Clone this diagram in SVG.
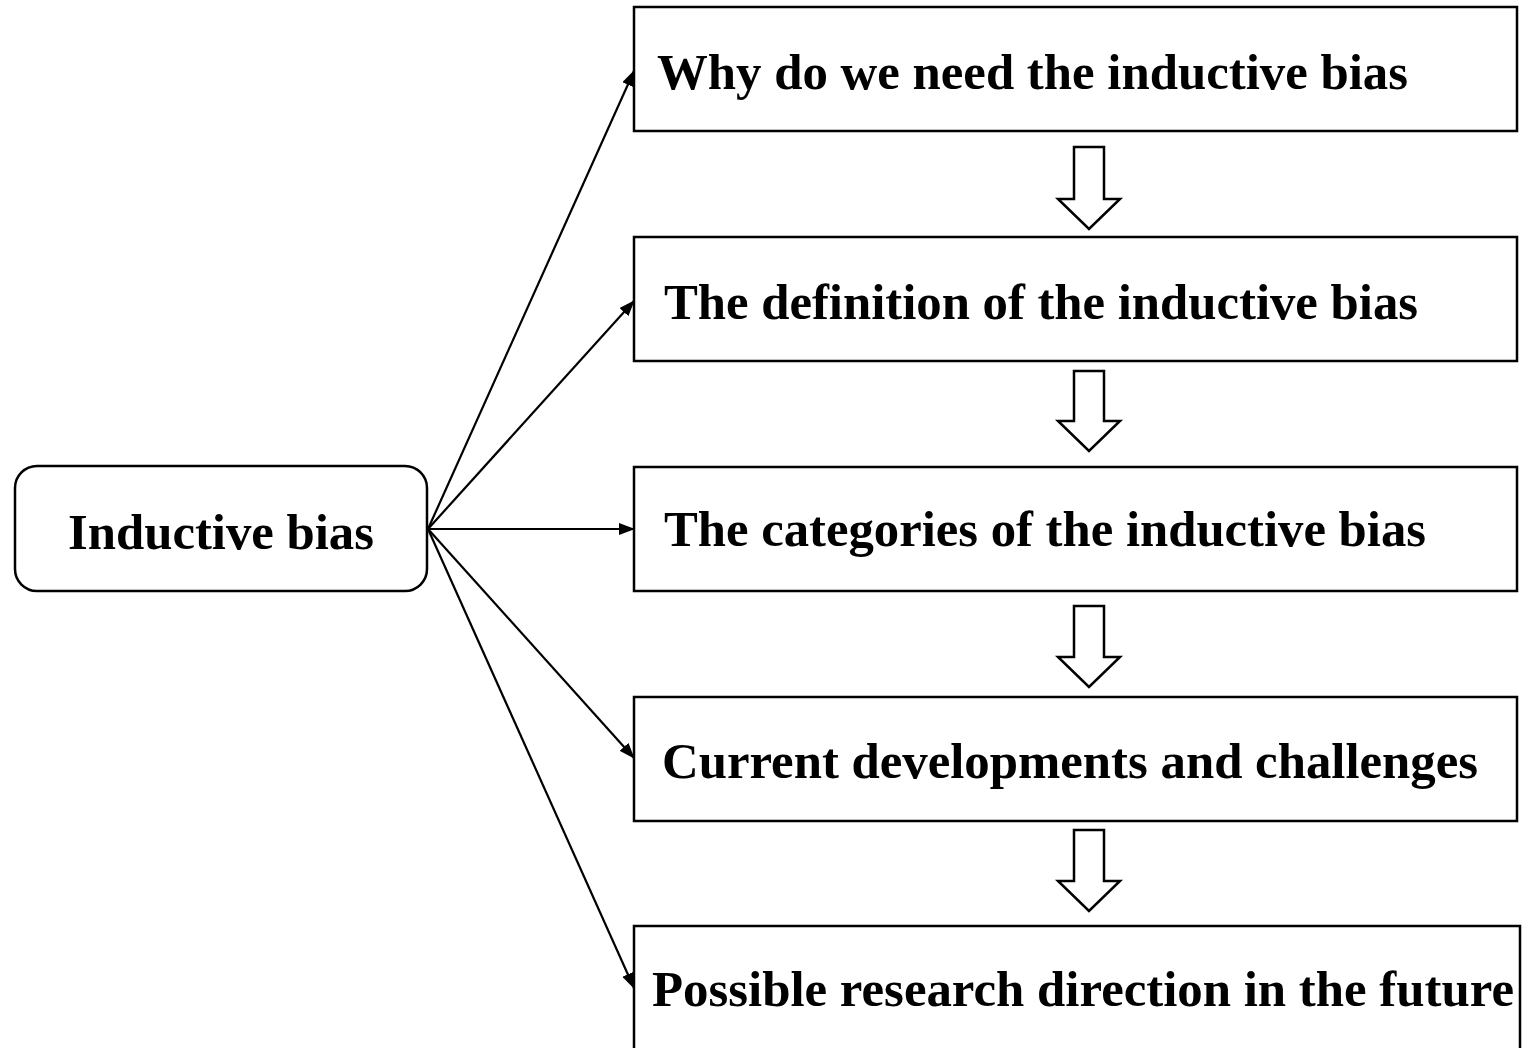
<svg xmlns="http://www.w3.org/2000/svg" width="1522" height="1048" viewBox="0 0 1522 1048">
<style>
.box{fill:#fff;stroke:#000;stroke-width:2.5}
.t{font-family:"Liberation Serif","Times New Roman",serif;font-weight:bold;font-size:51px;fill:#000}
.c{stroke:#000;stroke-width:2.2;fill:none}
.blk{fill:#fff;stroke:#000;stroke-width:2.5;stroke-linejoin:miter}
</style>
<defs>
<marker id="ah" viewBox="0 0 16 12" refX="15" refY="6" markerWidth="16" markerHeight="12" markerUnits="userSpaceOnUse" orient="auto">
<path d="M0,0 L16,6 L0,12 Z" fill="#000"/>
</marker>
</defs>
<rect width="1522" height="1048" fill="#fff"/>
<g id="root">
<rect class="box" x="15" y="466" width="412" height="125" rx="22"/>
<text class="t" x="68" y="549" textLength="306" lengthAdjust="spacingAndGlyphs">Inductive bias</text>
</g>
<g id="n1">
<rect class="box" x="634" y="7" width="883" height="124"/>
<text class="t" x="657" y="89" textLength="751" lengthAdjust="spacingAndGlyphs">Why do we need the inductive bias</text>
</g>
<g id="n2">
<rect class="box" x="634" y="237" width="883" height="124"/>
<text class="t" x="664" y="319" textLength="754" lengthAdjust="spacingAndGlyphs">The definition of the inductive bias</text>
</g>
<g id="n3">
<rect class="box" x="634" y="467" width="883" height="124"/>
<text class="t" x="664" y="546" textLength="762" lengthAdjust="spacingAndGlyphs">The categories of the inductive bias</text>
</g>
<g id="n4">
<rect class="box" x="634" y="697" width="883" height="124"/>
<text class="t" x="662" y="778" textLength="816" lengthAdjust="spacingAndGlyphs">Current developments and challenges</text>
</g>
<g id="n5">
<rect class="box" x="634" y="926" width="886" height="140"/>
<text class="t" x="652" y="1006" textLength="862" lengthAdjust="spacingAndGlyphs">Possible research direction in the future</text>
</g>
<g id="connectors">
<line class="c" x1="428" y1="529" x2="634" y2="71" marker-end="url(#ah)"/>
<line class="c" x1="428" y1="529" x2="634" y2="301" marker-end="url(#ah)"/>
<line class="c" x1="428" y1="529" x2="634" y2="529" marker-end="url(#ah)"/>
<line class="c" x1="428" y1="529" x2="634" y2="758" marker-end="url(#ah)"/>
<line class="c" x1="428" y1="529" x2="634" y2="988" marker-end="url(#ah)"/>
<path class="blk" d="M1074,147 H1104 V199 H1120 L1089,229 L1058,199 H1074 Z"/>
<path class="blk" d="M1074,371 H1104 V421 H1120 L1089,451 L1058,421 H1074 Z"/>
<path class="blk" d="M1074,606 H1104 V657 H1120 L1089,687 L1058,657 H1074 Z"/>
<path class="blk" d="M1074,830 H1104 V881 H1120 L1089,911 L1058,881 H1074 Z"/>
</g>
</svg>
